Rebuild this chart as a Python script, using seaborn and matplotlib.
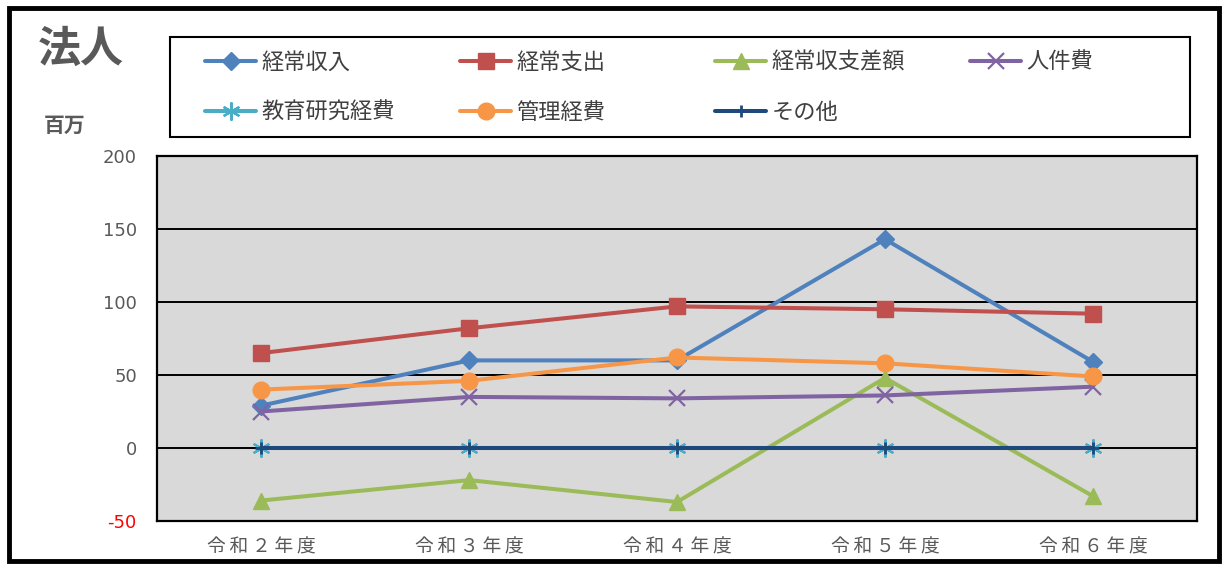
import matplotlib
matplotlib.use("Agg")
import matplotlib.pyplot as plt
from matplotlib.patches import Rectangle
import seaborn as sns
import pandas as pd

# 年度ごとの法人収支（百万円）
years = ["令和２年度", "令和３年度", "令和４年度", "令和５年度", "令和６年度"]
income = [29, 60, 60, 143, 59]          # 経常収入
expense = [65, 82, 97, 95, 92]          # 経常支出
balance = [-36, -22, -37, 48, -33]      # 経常収支差額
personnel = [25, 35, 34, 36, 42]        # 人件費
research = [0, 0, 0, 0, 0]              # 教育研究経費
admin = [40, 46, 62, 58, 49]            # 管理経費
other = [0, 0, 0, 0, 0]                 # その他

series_names = ["経常収入", "経常支出", "経常収支差額", "人件費", "教育研究経費", "管理経費", "その他"]
series_values = [income, expense, balance, personnel, research, admin, other]
y_ticks = [-50, 0, 50, 100, 150, 200]

styles = [
    dict(color="#4f81bd", marker="D", ms=9),
    dict(color="#c0504d", marker="s", ms=11),
    dict(color="#9bbb59", marker="^", ms=12),
    dict(color="#8064a2", marker="x", ms=11, mew=1.6),
    dict(color="#4bacc6", marker=(6, 2, 0), ms=13, mew=1.6),
    dict(color="#f79646", marker="o", ms=12),
    dict(color="#1f497d", marker="+", ms=9, mew=2),
]

sns.set_theme(style="white")
plt.rcParams["font.family"] = ["Noto Sans CJK JP", "DejaVu Sans"]
plt.rcParams["axes.unicode_minus"] = False

W, H = 1223, 564
fig = plt.figure(figsize=(W / 100, H / 100), dpi=100)
ax = fig.add_axes([157 / W, 1 - 521 / H, (1197 - 157) / W, (521 - 156) / H])
ax.set_facecolor("#d9d9d9")

handles = []
for name, vals, st in zip(series_names, series_values, styles):
    df = pd.DataFrame({"year": years, "value": vals})
    st = dict(st)
    ax = sns.lineplot(data=df, x="year", y="value", ax=ax, color=st.pop("color"),
                      marker=st.pop("marker"), markersize=st.pop("ms"),
                      markeredgewidth=st.pop("mew", 1), lw=2.9, legend=False)
    line = ax.lines[-1]
    line.set_markeredgecolor(line.get_color())
    line.set_label(name)
    handles.append(line)

ax.set_xlim(-0.5, 4.5)
ax.set_ylim(-50, 200)
ax.set_xlabel("")
ax.set_ylabel("")
for y in y_ticks:
    ax.axhline(y, color="black", lw=1.4, zorder=0.5)
for sp in ax.spines.values():
    sp.set_color("black")
    sp.set_linewidth(1.6)
ax.tick_params(axis="both", length=0, colors="#595959")
ax.tick_params(axis="y", pad=14.5)
ax.tick_params(axis="x", pad=11)

# 目盛ラベル
ax.set_yticks(y_ticks, [str(v) for v in y_ticks], fontsize=13,
              family=["DejaVu Sans"])
for lbl in ax.get_yticklabels():
    if lbl.get_text() == "-50":
        lbl.set_color("red")
spaced = ["\u2009".join(y) for y in years]
ax.set_xticks(range(len(years)), spaced, fontsize=13.5,
              family=["Noto Sans CJK JP", "DejaVu Sans"])

# 凡例（4列×2行の並び）
col_x = [205, 460, 715, 970]
row_y = [62, 112]
for i, h in enumerate(handles):
    r, c = divmod(i, 4)
    leg = fig.legend([h], [h.get_label()], loc="center left",
                     bbox_to_anchor=(col_x[c] / W, 1 - row_y[r] / H),
                     frameon=False, fontsize=16, handlelength=2.3,
                     handletextpad=0.25, borderpad=0, borderaxespad=0)
    for t in leg.get_texts():
        t.set_color("#404040")
fig.add_artist(Rectangle((170 / W, 1 - 137 / H), (1190 - 170) / W, 100 / H,
                         transform=fig.transFigure, fill=False, ec="black", lw=1.5))

# 外枠と見出し
fig.add_artist(Rectangle((9 / W, 1 - 561 / H), (1219 - 9) / W, (561 - 8) / H,
                         transform=fig.transFigure, fill=False, ec="black", lw=3.5))
fig.text(38 / W, 1 - 49 / H, "法人", fontsize=31, fontweight="bold",
         color="#595959", va="center", ha="left")
fig.text(44 / W, 1 - 125 / H, "百万", fontsize=15, fontweight="bold",
         color="#595959", va="center", ha="left")

fig.savefig("out.png", dpi=100)
